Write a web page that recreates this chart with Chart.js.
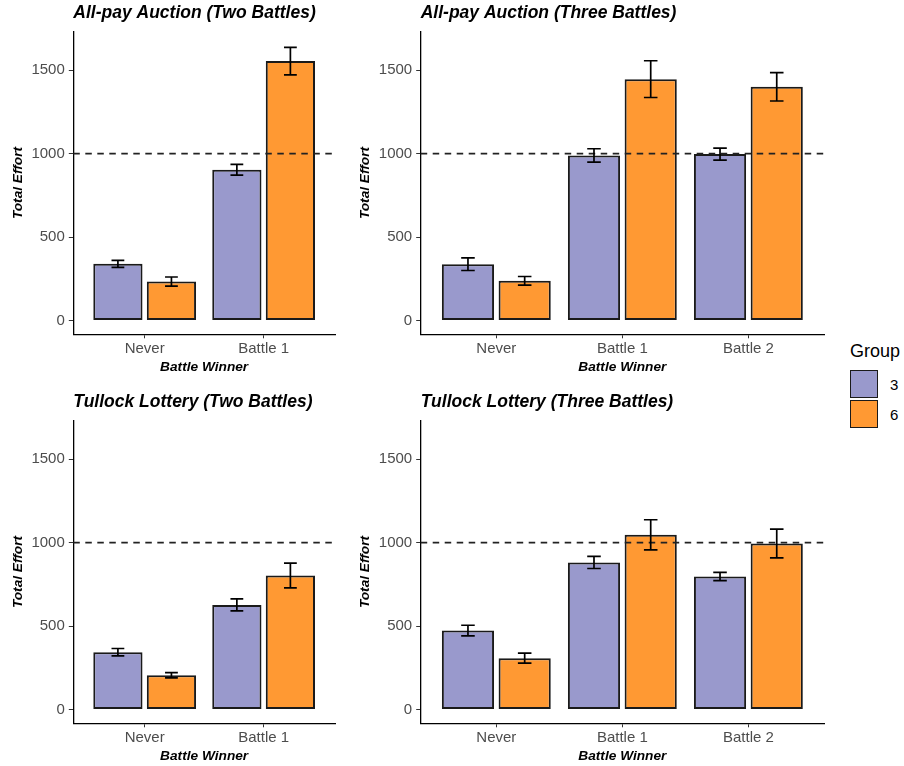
<!DOCTYPE html>
<html>
<head>
<meta charset="utf-8">
<script src="https://cdn.jsdelivr.net/npm/chart.js@4.4.1/dist/chart.umd.min.js"></script>
<style>
  body { margin: 0; background: #fff; width: 904px; height: 766px; overflow: hidden; position: relative; font-family: 'Liberation Sans', Arial, sans-serif; }
  canvas { position: absolute; }
  .legend { position: absolute; left: 850px; top: 340px; color: #000; }
  .legend .ttl { font-size: 18px; line-height: 22px; margin-bottom: 7px; }
  .legend .row { display: flex; align-items: center; height: 30px; }
  .legend .key { width: 26px; height: 26px; border: 1.6px solid #1a1a1a; margin-right: 12px; }
  .legend .lab { font-size: 15px; }
</style>
</head>
<body>
<canvas id="p1" width="340" height="377" style="left:0;top:0"></canvas>
<canvas id="p2" width="480" height="377" style="left:347px;top:0"></canvas>
<canvas id="p3" width="340" height="377" style="left:0;top:389px"></canvas>
<canvas id="p4" width="480" height="377" style="left:347px;top:389px"></canvas>

<div class="legend">
  <div class="ttl">Group</div>
  <div class="row"><div class="key" style="background:#9999CC"></div><span class="lab">3</span></div>
  <div class="row"><div class="key" style="background:#FF9933"></div><span class="lab">6</span></div>
</div>

<script>
// categories
var twoBattles = ['Never', 'Battle 1'];
var threeBattles = ['Never', 'Battle 1', 'Battle 2'];
var yTicks = [0, 500, 1000, 1500];
var groups = ['3', '6'];

// All-pay auction, two battles
var ap2Group3 = [340, 903];
var ap2Group3Se = [21, 32];
var ap2Group6 = [234, 1554];
var ap2Group6Se = [27, 82];

// All-pay auction, three battles
var ap3Group3 = [338, 989, 997];
var ap3Group3Se = [38, 40, 36];
var ap3Group6 = [238, 1446, 1400];
var ap3Group6Se = [26, 110, 85];

// Tullock lottery, two battles
var tl2Group3 = [344, 627];
var tl2Group3Se = [22, 36];
var tl2Group6 = [206, 803];
var tl2Group6Se = [16, 74];

// Tullock lottery, three battles
var tl3Group3 = [473, 881, 797];
var tl3Group3Se = [32, 36, 25];
var tl3Group6 = [308, 1047, 995];
var tl3Group6Se = [30, 90, 86];

var refLine = 1000;

Chart.defaults.font.family = "'Liberation Sans', Arial, sans-serif";

// mean +/- se whiskers on every bar
var errorBars = {
  id: 'errorBars',
  afterDatasetsDraw(chart) {
    var ctx = chart.ctx;
    var yScale = chart.scales.y;
    ctx.save();
    ctx.strokeStyle = '#000';
    ctx.lineWidth = 1.7;
    chart.data.datasets.forEach(function(ds, di) {
      var meta = chart.getDatasetMeta(di);
      meta.data.forEach(function(bar, i) {
        var v = ds.data[i].y, e = ds.se[i];
        var top = yScale.getPixelForValue(v + e);
        var bot = yScale.getPixelForValue(v - e);
        var half = bar.width * 0.13;
        ctx.beginPath();
        ctx.moveTo(bar.x, top); ctx.lineTo(bar.x, bot);
        ctx.moveTo(bar.x - half, top); ctx.lineTo(bar.x + half, top);
        ctx.moveTo(bar.x - half, bot); ctx.lineTo(bar.x + half, bot);
        ctx.stroke();
      });
    });
    ctx.restore();
  }
};

// dashed line at 1000
var dashedRef = {
  id: 'dashedRef',
  afterDatasetsDraw(chart) {
    var ctx = chart.ctx, area = chart.chartArea;
    var y = chart.scales.y.getPixelForValue(refLine);
    ctx.save();
    ctx.strokeStyle = '#222';
    ctx.lineWidth = 1.7;
    ctx.setLineDash([6.5, 5.5]);
    ctx.beginPath();
    ctx.moveTo(area.left, y);
    ctx.lineTo(area.right, y);
    ctx.stroke();
    ctx.restore();
  }
};

function show_panel(id, title, cats, g3, se3, g6, se6, padRight, yWidth) {
  var pts3 = g3.map(function(v, i) { return { x: i + 1, y: v }; });
  var pts6 = g6.map(function(v, i) { return { x: i + 1, y: v }; });
  var tickFont = { size: 15 };
  var axisTitleFont = { size: 13.7, weight: 'bold', style: 'italic' };
  return new Chart(document.getElementById(id), {
    type: 'bar',
    data: {
      datasets: [
        { label: groups[0], data: pts3, se: se3, backgroundColor: '#9999CC' },
        { label: groups[1], data: pts6, se: se6, backgroundColor: '#FF9933' }
      ]
    },
    options: {
      responsive: false,
      animation: false,
      devicePixelRatio: 1,
      layout: { padding: { left: 0, right: padRight, top: 0, bottom: 0 } },
      datasets: {
        bar: {
          categoryPercentage: 0.9,
          barPercentage: 0.92,
          borderColor: '#1a1a1a',
          borderWidth: 2,
          borderSkipped: false
        }
      },
      plugins: {
        legend: { display: false },
        tooltip: { enabled: false },
        title: {
          display: true,
          text: title,
          align: 'start',
          fullSize: false,
          color: '#000',
          font: { size: 17.5, weight: 'bold', style: 'italic' },
          padding: { top: 3, bottom: 7.7 }
        }
      },
      scales: {
        x: {
          type: 'linear',
          bounds: 'data',
          offset: false,
          min: 0.4,
          max: cats.length + 0.6,
          afterBuildTicks: function(s) { s.ticks = cats.map(function(c, i) { return { value: i + 1 }; }); },
          afterFit: function(s) { s.height = 42.7; },
          ticks: {
            callback: function(v) { return cats[v - 1]; },
            color: '#4D4D4D', font: tickFont, padding: 2, autoSkip: false, maxRotation: 0
          },
          grid: { offset: false, drawOnChartArea: false, tickLength: 4, color: '#333' },
          border: { color: '#000', width: 1.3 },
          title: { display: true, text: 'Battle Winner', color: '#000', font: axisTitleFont, padding: { top: 0, bottom: 1.2 } }
        },
        y: {
          type: 'linear',
          bounds: 'data',
          min: -82,
          max: 1730,
          afterBuildTicks: function(s) { s.ticks = yTicks.map(function(v) { return { value: v }; }); },
          afterFit: function(s) { s.width = yWidth; },
          ticks: { color: '#4D4D4D', font: tickFont, padding: 4, callback: function(v) { return String(v); } },
          grid: { drawOnChartArea: false, tickLength: 4.5, color: '#333' },
          border: { color: '#000', width: 1.3 },
          title: { display: true, text: 'Total Effort', color: '#000', font: axisTitleFont, padding: { top: 9.6, bottom: 0 } }
        }
      }
    },
    plugins: [dashedRef, errorBars]
  });
}

show_panel('p1', 'All-pay Auction (Two Battles)', twoBattles, ap2Group3, ap2Group3Se, ap2Group6, ap2Group6Se, 5, 73.3);
show_panel('p2', 'All-pay Auction (Three Battles)', threeBattles, ap3Group3, ap3Group3Se, ap3Group6, ap3Group6Se, 3, 73.7);
show_panel('p3', 'Tullock Lottery (Two Battles)', twoBattles, tl2Group3, tl2Group3Se, tl2Group6, tl2Group6Se, 5, 73.3);
show_panel('p4', 'Tullock Lottery (Three Battles)', threeBattles, tl3Group3, tl3Group3Se, tl3Group6, tl3Group6Se, 3, 73.7);
</script>
</body>
</html>
